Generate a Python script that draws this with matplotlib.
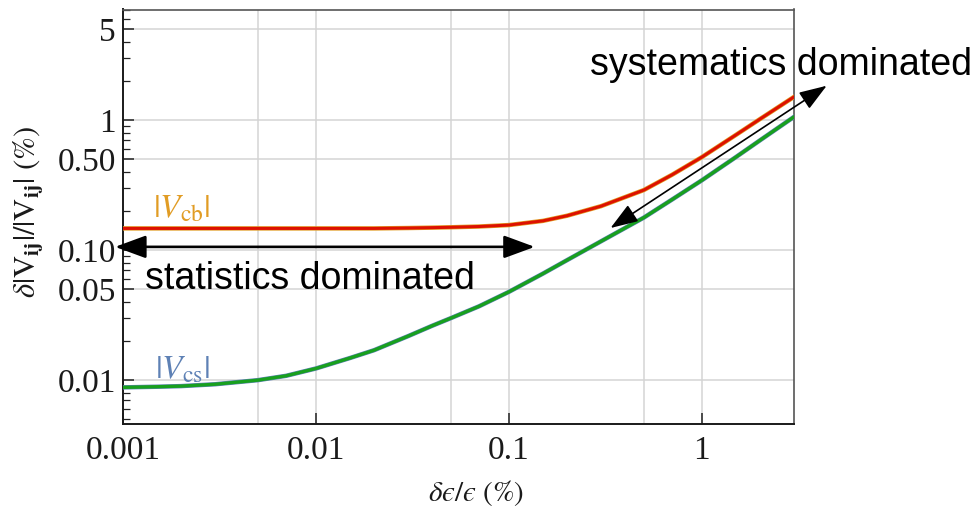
import matplotlib
matplotlib.use("Agg")
import matplotlib.pyplot as plt
from matplotlib.ticker import FixedLocator, FixedFormatter, NullFormatter

# ---- data ----
x_vals = [0.001, 0.0015, 0.002, 0.003, 0.005, 0.007, 0.01, 0.015, 0.02, 0.03, 0.04,
          0.05, 0.07, 0.1, 0.15, 0.2, 0.3, 0.5, 0.7, 1.0, 1.5, 2.0, 3.0]
vcb = [0.147, 0.147, 0.147, 0.147, 0.147, 0.147, 0.147, 0.147, 0.147, 0.148, 0.149,
       0.150, 0.152, 0.156, 0.168, 0.184, 0.218, 0.290, 0.380, 0.520, 0.770, 1.02, 1.51]
vcs = [0.0088, 0.0089, 0.0090, 0.0093, 0.0100, 0.0108, 0.0123, 0.0148, 0.0170, 0.0218, 0.0262,
       0.0300, 0.0370, 0.0478, 0.0660, 0.0838, 0.117, 0.178, 0.245, 0.345, 0.520, 0.700, 1.06]

x_ticks = [0.001, 0.01, 0.1, 1]
x_ticklabels = ["0.001", "0.01", "0.1", "1"]
y_ticks = [0.01, 0.05, 0.1, 0.5, 1, 5]
y_ticklabels = ["0.01", "0.05", "0.10", "0.50", "1", "5"]
x_grid = [0.005, 0.01, 0.05, 0.1, 0.5, 1]
y_grid = [0.01, 0.05, 0.1, 0.5, 1, 5]

plt.rcParams['mathtext.fontset'] = 'stix'
serif = ['Liberation Serif', 'DejaVu Serif']
sans = ['Liberation Sans', 'DejaVu Sans']

fig = plt.figure(figsize=(9.73, 5.14), dpi=100)
ax = fig.add_axes([123/973, 1 - 424/514, (794 - 123)/973, (424 - 9.5)/514])
ax.set_xscale('log')
ax.set_yscale('log')
ax.set_xlim(0.001, 3.0)
ax.set_ylim(0.0046, 7.1)

for g in x_grid:
    ax.axvline(g, color='#d4d4d4', lw=1.1, zorder=0)
for g in y_grid:
    ax.axhline(g, color='#d4d4d4', lw=1.1, zorder=0)

ax.plot(x_vals, vcb, color='#E19C24', lw=3.2, zorder=3, solid_joinstyle='round')
ax.plot(x_vals, vcb, color='#DD1100', lw=2.2, zorder=4, solid_joinstyle='round')
ax.plot(x_vals, vcs, color='#5E81B5', lw=3.2, zorder=3, solid_joinstyle='round')
ax.plot(x_vals, vcs, color='#18A01E', lw=2.4, zorder=4, solid_joinstyle='round')

# ticks
ax.xaxis.set_major_locator(FixedLocator(x_ticks))
ax.xaxis.set_major_formatter(FixedFormatter(x_ticklabels))
ax.xaxis.set_minor_locator(FixedLocator([]))
ax.yaxis.set_major_locator(FixedLocator(y_ticks))
ax.yaxis.set_major_formatter(FixedFormatter(y_ticklabels))
minors = [m * 10.0**e for e in range(-3, 1) for m in range(2, 10)]
minors = [v for v in minors if v not in (0.05, 0.5, 5) and 0.0046 < v < 7.1]
ax.yaxis.set_minor_locator(FixedLocator(minors))
ax.yaxis.set_minor_formatter(NullFormatter())
ax.tick_params(axis='both', which='major', direction='in', length=8, width=1.1,
               labelsize=24, top=False, right=False, color='#222222')
ax.tick_params(axis='y', which='minor', direction='in', length=5, width=0.9,
               left=True, right=False, color='#222222')
ax.tick_params(axis='x', which='major', pad=8)
ax.tick_params(axis='y', which='major', pad=5)
for lab in ax.get_xticklabels() + ax.get_yticklabels():
    lab.set_fontfamily(serif)
    lab.set_color('#1a1a1a')

for s in ['left', 'bottom']:
    ax.spines[s].set_color('#1a1a1a')
    ax.spines[s].set_linewidth(1.4)
for s in ['top', 'right']:
    ax.spines[s].set_color('#555555')
    ax.spines[s].set_linewidth(1.2)

ax.set_xlabel('$\\delta ϵ/ϵ\\ (\\%)$', fontsize=21, color='#1a1a1a')
ax.xaxis.set_label_coords((476 - 123) / 671, -(478 - 424) / 414.5)
ax.set_ylabel(r'$\delta|\mathrm{V}_{\mathbf{ij}}|/|\mathrm{V}_{\mathbf{ij}}|\ (\%)$',
              fontsize=22, color='#1a1a1a')
ax.yaxis.set_label_coords(-(123 - 46) / 671, (424 - 212) / 414.5)

# curve labels
ax.text(0.00143, 0.179, r'$|V_{\mathrm{cb}}|$', fontsize=24, color='#E19C24', va='baseline', ha='left')
ax.text(0.00146, 0.0103, r'$|V_{\mathrm{cs}}|$', fontsize=24, color='#5E81B5', va='baseline', ha='left')

# annotations
ax.text(0.0013, 0.050, 'statistics dominated', fontsize=27, family=sans, color='black',
        va='baseline', ha='left', zorder=6)
ax.text(0.263, 2.22, 'systematics dominated', fontsize=27, family=sans, color='black',
        va='baseline', ha='left', zorder=6, clip_on=False)

ax.annotate('', xy=(0.00091, 0.106), xytext=(0.136, 0.106),
            arrowprops=dict(arrowstyle='<|-|>,head_length=19,head_width=7', mutation_scale=1,
                            color='black', lw=1.9, shrinkA=0, shrinkB=0),
            annotation_clip=False, zorder=7)
ax.annotate('', xy=(0.336, 0.148), xytext=(4.43, 1.84),
            arrowprops=dict(arrowstyle='<|-|>,head_length=17,head_width=6', mutation_scale=1,
                            color='black', lw=1.2, shrinkA=0, shrinkB=0),
            annotation_clip=False, zorder=7)

fig.savefig('out.png', dpi=100)
